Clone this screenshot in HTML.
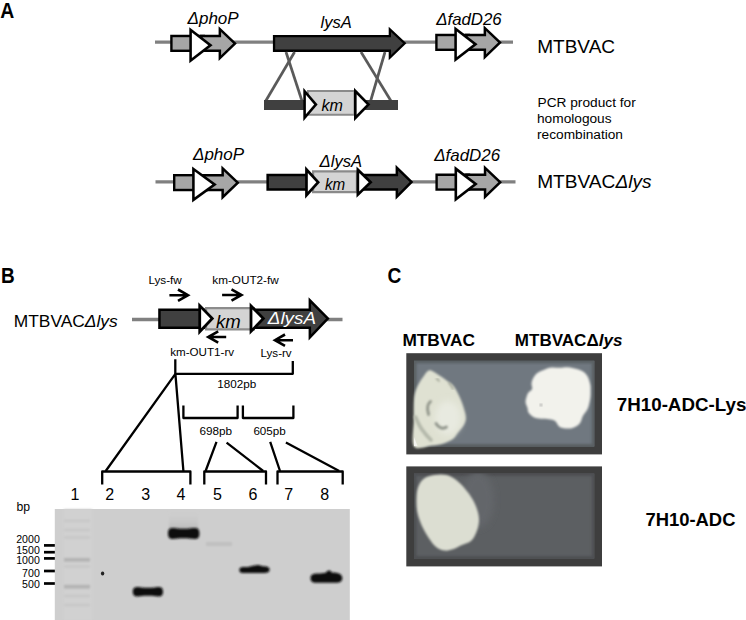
<!DOCTYPE html>
<html><head><meta charset="utf-8">
<style>
html,body{margin:0;padding:0;background:#fff;}
body{width:746px;height:620px;overflow:hidden;position:relative;}
svg{position:absolute;left:0;top:0;display:block;}
text{font-family:"Liberation Sans",sans-serif;}
.i{font-style:italic;}
.b{font-weight:bold;}
</style></head>
<body>
<svg width="746" height="620" viewBox="0 0 746 620">
<defs>
  <filter id="blur1" x="-20%" y="-100%" width="140%" height="300%"><feGaussianBlur stdDeviation="1.2"/></filter>
  <filter id="blur2" x="-50%" y="-50%" width="200%" height="200%"><feGaussianBlur stdDeviation="3"/></filter>
  <filter id="blurc" x="-10%" y="-10%" width="120%" height="120%"><feGaussianBlur stdDeviation="0.8"/></filter>
  <filter id="blur06" x="-20%" y="-50%" width="140%" height="200%"><feGaussianBlur stdDeviation="0.7"/></filter>
  <filter id="blurb" x="-20%" y="-80%" width="140%" height="260%"><feGaussianBlur stdDeviation="0.95"/></filter>
</defs>
<text id="t0" x="0.30" y="17.80" font-size="21.20" class="b" textLength="14.01" lengthAdjust="spacingAndGlyphs">A</text>
<line x1="155" y1="42.1" x2="513" y2="42.1" stroke="#808080" stroke-width="3.3"/>
<polygon points="170.20,34.80 205.00,34.80 205.00,52.00 170.20,52.00" fill="#000"/>
<polygon points="172.60,37.20 202.60,37.20 202.60,49.60 172.60,49.60" fill="#a6a6a6"/>
<polygon points="200.00,34.80 218.60,34.80 218.60,26.20 236.80,43.50 218.60,61.00 218.60,52.00 200.00,52.00" fill="#000"/>
<polygon points="202.50,37.30 221.10,37.30 221.10,32.03 233.18,43.51 221.10,55.13 221.10,49.50 202.50,49.50" fill="#a6a6a6"/>
<polygon points="189.30,27.30 212.60,45.30 189.30,63.20" fill="#000"/>
<polygon points="191.90,32.59 208.34,45.29 191.90,57.92" fill="#fff"/>
<polygon points="435.20,33.80 470.00,33.80 470.00,51.00 435.20,51.00" fill="#000"/>
<polygon points="437.60,36.20 467.60,36.20 467.60,48.60 437.60,48.60" fill="#a6a6a6"/>
<polygon points="465.00,33.80 483.60,33.80 483.60,25.20 501.80,42.50 483.60,60.00 483.60,51.00 465.00,51.00" fill="#000"/>
<polygon points="467.50,36.30 486.10,36.30 486.10,31.03 498.18,42.51 486.10,54.13 486.10,48.50 467.50,48.50" fill="#a6a6a6"/>
<polygon points="454.30,26.30 477.60,44.30 454.30,62.20" fill="#000"/>
<polygon points="456.90,31.59 473.34,44.29 456.90,56.92" fill="#fff"/>
<polygon points="272.90,35.00 388.70,35.00 388.70,26.70 406.40,43.30 388.70,60.30 388.70,51.90 272.90,51.90" fill="#000"/>
<polygon points="275.20,37.30 391.00,37.30 391.00,32.01 403.06,43.32 391.00,54.90 391.00,49.60 275.20,49.60" fill="#404040"/>
<text id="t1" x="320.50" y="28.30" font-size="17.00" class="i" textLength="31.32" lengthAdjust="spacingAndGlyphs">lysA</text>
<text id="t2" x="187.50" y="23.50" font-size="17.00" class="i" textLength="51.21" lengthAdjust="spacingAndGlyphs">ΔphoP</text>
<text id="t3" x="436.20" y="25.30" font-size="17.00" class="i" textLength="65.53" lengthAdjust="spacingAndGlyphs">ΔfadD26</text>
<text id="t4" x="537.20" y="52.60" font-size="18.60" textLength="77.91" lengthAdjust="spacingAndGlyphs">MTBVAC</text>
<g stroke="#5a5a5a" stroke-width="2.7">
<line x1="286" y1="52" x2="302" y2="101"/>
<line x1="294.6" y1="52" x2="265.7" y2="101"/>
<line x1="361" y1="52" x2="391" y2="101"/>
<line x1="385" y1="52" x2="370.6" y2="101"/>
</g>
<rect x="264" y="100" width="134" height="10" fill="#404040"/>
<polygon points="307.00,90.00 355.50,90.00 355.50,115.80 307.00,115.80" fill="#8a8a8a"/>
<polygon points="309.00,92.00 353.50,92.00 353.50,113.80 309.00,113.80" fill="#d4d4d4"/>
<polygon points="303.30,87.80 317.60,104.50 303.30,121.20" fill="#000"/>
<polygon points="305.90,94.83 314.18,104.50 305.90,114.17" fill="#fff"/>
<polygon points="354.00,87.80 370.30,104.50 354.00,121.20" fill="#000"/>
<polygon points="356.60,94.19 366.67,104.50 356.60,114.81" fill="#fff"/>
<text id="t5" x="321.40" y="111.20" font-size="16.00" class="i" textLength="21.43" lengthAdjust="spacingAndGlyphs">km</text>
<text id="t6" x="537.50" y="106.70" font-size="13.70" textLength="98.24" lengthAdjust="spacingAndGlyphs">PCR product for</text>
<text id="t7" x="537.00" y="122.90" font-size="13.70">homologous</text>
<text id="t8" x="537.00" y="138.90" font-size="13.70">recombination</text>
<line x1="155.5" y1="181.9" x2="515.5" y2="181.9" stroke="#808080" stroke-width="3.3"/>
<polygon points="173.00,174.00 207.80,174.00 207.80,191.20 173.00,191.20" fill="#000"/>
<polygon points="175.40,176.40 205.40,176.40 205.40,188.80 175.40,188.80" fill="#a6a6a6"/>
<polygon points="202.80,174.00 221.40,174.00 221.40,165.40 239.60,182.70 221.40,200.20 221.40,191.20 202.80,191.20" fill="#000"/>
<polygon points="205.30,176.50 223.90,176.50 223.90,171.23 235.98,182.71 223.90,194.33 223.90,188.70 205.30,188.70" fill="#a6a6a6"/>
<polygon points="192.10,166.50 216.80,184.50 192.10,202.40" fill="#000"/>
<polygon points="194.70,171.61 212.38,184.49 194.70,197.30" fill="#fff"/>
<polygon points="435.40,173.60 470.20,173.60 470.20,190.80 435.40,190.80" fill="#000"/>
<polygon points="437.80,176.00 467.80,176.00 467.80,188.40 437.80,188.40" fill="#a6a6a6"/>
<polygon points="465.20,173.60 483.80,173.60 483.80,165.00 502.00,182.30 483.80,199.80 483.80,190.80 465.20,190.80" fill="#000"/>
<polygon points="467.70,176.10 486.30,176.10 486.30,170.83 498.38,182.31 486.30,193.93 486.30,188.30 467.70,188.30" fill="#a6a6a6"/>
<polygon points="454.50,166.10 477.80,184.10 454.50,202.00" fill="#000"/>
<polygon points="457.10,171.39 473.54,184.09 457.10,196.72" fill="#fff"/>
<polygon points="266.40,173.80 395.60,173.80 395.60,164.80 413.30,182.00 395.60,199.80 395.60,190.80 266.40,190.80" fill="#000"/>
<polygon points="268.90,176.30 398.10,176.30 398.10,170.72 409.74,182.03 398.10,193.74 398.10,188.30 268.90,188.30" fill="#404040"/>
<polygon points="312.00,170.30 358.00,170.30 358.00,193.30 312.00,193.30" fill="#8a8a8a"/>
<polygon points="314.20,172.50 355.80,172.50 355.80,191.10 314.20,191.10" fill="#d4d4d4"/>
<polygon points="305.10,165.90 320.00,182.30 305.10,198.70" fill="#000"/>
<polygon points="307.80,172.89 316.35,182.30 307.80,191.71" fill="#fff"/>
<polygon points="356.50,166.60 372.60,182.20 356.50,197.80" fill="#000"/>
<polygon points="359.20,172.98 368.72,182.20 359.20,191.42" fill="#fff"/>
<text id="t9" x="319.60" y="166.70" font-size="16.50" class="i" textLength="42.55" lengthAdjust="spacingAndGlyphs">ΔlysA</text>
<text id="t10" x="324.90" y="190.10" font-size="16.00" class="i" textLength="20.23" lengthAdjust="spacingAndGlyphs">km</text>
<text id="t11" x="193.00" y="160.20" font-size="17.00" class="i" textLength="51.11" lengthAdjust="spacingAndGlyphs">ΔphoP</text>
<text id="t12" x="434.20" y="161.00" font-size="17.00" class="i" textLength="65.93" lengthAdjust="spacingAndGlyphs">ΔfadD26</text>
<text id="t13" x="537.20" y="187.50" font-size="18.60" textLength="114.41" lengthAdjust="spacingAndGlyphs">MTBVAC<tspan class="i">Δlys</tspan></text>
<text id="t14" x="1.10" y="282.90" font-size="21.20" class="b" textLength="13.71" lengthAdjust="spacingAndGlyphs">B</text>
<text id="t15" x="13.70" y="327.00" font-size="17.00" textLength="104.07" lengthAdjust="spacingAndGlyphs">MTBVAC<tspan class="i">Δlys</tspan></text>
<line x1="132" y1="319.5" x2="342.5" y2="319.5" stroke="#808080" stroke-width="3.3"/>
<polygon points="158.20,308.40 308.60,308.40 308.60,297.30 329.60,318.60 308.60,340.40 308.60,328.90 158.20,328.90" fill="#000"/>
<polygon points="160.70,310.90 311.10,310.90 311.10,303.40 326.11,318.62 311.10,334.20 311.10,326.40 160.70,326.40" fill="#404040"/>
<polygon points="205.00,307.10 255.00,307.10 255.00,330.40 205.00,330.40" fill="#8c8c8c"/>
<polygon points="207.20,309.30 252.80,309.30 252.80,328.20 207.20,328.20" fill="#d4d4d4"/>
<polygon points="198.30,302.20 214.20,318.60 198.30,335.20" fill="#000"/>
<polygon points="201.10,309.11 210.31,318.61 201.10,328.23" fill="#fff"/>
<polygon points="249.60,302.60 265.30,318.60 249.60,334.80" fill="#000"/>
<polygon points="252.40,309.45 261.39,318.61 252.40,327.89" fill="#fff"/>
<text id="t16" x="216.00" y="328.20" font-size="18.50" class="i" textLength="24.77" lengthAdjust="spacingAndGlyphs">km</text>
<text id="t17" x="267.80" y="324.40" font-size="16.50" class="i" textLength="48.15" lengthAdjust="spacingAndGlyphs" fill="#fff">ΔlysA</text>
<text id="t18" x="148.40" y="284.00" font-size="11.80" textLength="33.46" lengthAdjust="spacingAndGlyphs">Lys-fw</text>
<text id="t19" x="212.30" y="284.00" font-size="11.80" textLength="66.44" lengthAdjust="spacingAndGlyphs">km-OUT2-fw</text>
<text id="t20" x="170.20" y="355.70" font-size="11.80" textLength="63.88" lengthAdjust="spacingAndGlyphs">km-OUT1-rv</text>
<text id="t21" x="260.50" y="356.70" font-size="11.80" textLength="31.19" lengthAdjust="spacingAndGlyphs">Lys-rv</text>
<g stroke="#000" stroke-width="2.6" fill="none" stroke-linecap="butt">
<path d="M169.4,295.2 H188.5 M178.0,289.5 L188.0,295.2 L178.0,300.9"/>
<path d="M222.1,295.0 H242.0 M231.5,289.3 L241.5,295.0 L231.5,300.7"/>
<path d="M207.7,337.0 H226.2 M218.2,331.3 L208.2,337.0 L218.2,342.7"/>
<path d="M274.5,340.2 H293.0 M285.0,334.5 L275.0,340.2 L285.0,345.9"/>
</g>
<g stroke="#000" stroke-width="2.3" fill="none" stroke-linejoin="round">
<path d="M175.3,359.3 V373.8 H292.8 V361"/>
<path d="M183.4,405.6 V418.0 H237.6 V405.6"/>
<path d="M242.9,405.6 V418.0 H293.4 V405.6"/>
<path d="M175.4,373.9 L105.7,471 M175.4,373.9 L183.4,471"/>
<path d="M216.5,441.9 L205.6,471 M226.6,442.6 L263.2,471"/>
<path d="M270.2,441.9 L280,471 M285.9,442.6 L339.2,471"/>
<path d="M102.2,484.6 V471.5 H190.4 V484.6"/>
<path d="M204.3,484.6 V471.5 H266 V484.6"/>
<path d="M277.5,484.6 V471.5 H342.7 V484.6"/>
</g>
<text id="t22" x="217.20" y="388.30" font-size="11.40" textLength="39.02" lengthAdjust="spacingAndGlyphs">1802pb</text>
<text id="t23" x="199.40" y="435.00" font-size="11.60" textLength="32.65" lengthAdjust="spacingAndGlyphs">698pb</text>
<text id="t24" x="253.40" y="435.00" font-size="11.60" textLength="32.35" lengthAdjust="spacingAndGlyphs">605pb</text>
<text x="74.9" y="500.3" font-size="16" text-anchor="middle">1</text>
<text x="109.7" y="500.3" font-size="16" text-anchor="middle">2</text>
<text x="145.8" y="500.3" font-size="16" text-anchor="middle">3</text>
<text x="181.0" y="500.3" font-size="16" text-anchor="middle">4</text>
<text x="217.4" y="500.3" font-size="16" text-anchor="middle">5</text>
<text x="253.0" y="500.3" font-size="16" text-anchor="middle">6</text>
<text x="288.7" y="500.3" font-size="16" text-anchor="middle">7</text>
<text x="324.8" y="500.3" font-size="16" text-anchor="middle">8</text>
<text id="t25" x="16.50" y="511.00" font-size="12.20">bp</text>
<text x="39.8" y="542.9" font-size="10.6" text-anchor="end">2000</text>
<text x="39.8" y="553.5" font-size="10.6" text-anchor="end">1500</text>
<text x="39.8" y="564.2" font-size="10.6" text-anchor="end">1000</text>
<text x="39.8" y="576.8" font-size="10.6" text-anchor="end">700</text>
<text x="39.8" y="587.8" font-size="10.6" text-anchor="end">500</text>
<g stroke="#000" stroke-width="2.7">
<line x1="44" y1="545.4" x2="55" y2="545.4"/>
<line x1="44" y1="552.2" x2="55" y2="552.2"/>
<line x1="44" y1="558.4" x2="55" y2="558.4"/>
<line x1="44" y1="571.0" x2="55" y2="571.0"/>
<line x1="44" y1="583.5" x2="55" y2="583.5"/>
</g>
<rect x="54.8" y="509" width="295" height="111" fill="#cecece"/><rect x="64" y="509" width="28" height="111" fill="#d1d1d1" filter="url(#blur1)"/>
<g fill="#c6c6c6" filter="url(#blur1)">
<rect x="64" y="519.7" width="26" height="2.2"/>
<rect x="64" y="528.9" width="26" height="2.2"/>
<rect x="64" y="536.4" width="26" height="2.2"/>
<rect x="64" y="565.4" width="26" height="2.2"/>
<rect x="64" y="594.9" width="26" height="2.2"/>
<rect x="64" y="603.9" width="26" height="2.2"/>
</g>
<g fill="#b2b2b2" filter="url(#blur1)">
<rect x="64" y="558.0" width="26" height="3.6"/>
<rect x="64" y="584.9" width="26" height="3.6"/>
</g>
<rect x="206" y="542" width="26" height="4" fill="#c0c0c0" filter="url(#blur1)"/>
<defs><linearGradient id="smear" x1="0" y1="0" x2="0" y2="1"><stop offset="0" stop-color="#cecece" stop-opacity="0"/><stop offset="1" stop-color="#b8b8b8" stop-opacity="1"/></linearGradient></defs>
<rect x="169" y="511" width="29" height="19" fill="url(#smear)" filter="url(#blur1)"/>
<g fill="#101010" filter="url(#blurb)">
<path d="M132.8,591.7 C132.8,587 136,586.8 140,587.2 C145,587.9 151,587.9 156,587.2 C161,586.7 163,587.6 163,591.7 C163,596 161,596.8 156,596.3 C151,595.7 145,595.7 140,596.3 C136,596.8 132.8,596.4 132.8,591.7 Z"/>
<path d="M168,533.5 C168,527.9 171,527.7 176,528.3 C181,529 186,529 191,528.3 C197,527.7 199.4,528.2 199.4,533.5 C199.4,539 197,539.3 191,538.8 C186,538.2 181,538.2 176,538.8 C171,539.3 168,539 168,533.5 Z"/>
<path d="M239.3,569.8 C239.3,566.6 243,566.8 248,567 C252,566 255,565.3 257.5,565 C260,564.8 261,566 263,566.3 C267,566.2 269.6,567 269.6,569.6 C269.6,572.6 267,573.2 262,573 L246,573.1 C241,573.2 239.3,572.6 239.3,569.8 Z"/>
<path d="M310.5,578.2 C310.5,573.8 314,573.6 320,573.6 L326,572.8 C327,569.8 331,569.6 331.5,572.4 C337,572.7 342.3,573 342.3,578 C342.3,582.3 339,582.8 334,582.8 L318,582.8 C313,582.8 310.5,582 310.5,578.2 Z"/>
</g>
<ellipse cx="102.6" cy="573.6" rx="1.7" ry="2" fill="#222" filter="url(#blur06)"/>
<text id="t26" x="387.50" y="283.30" font-size="21.20" class="b" textLength="13.81" lengthAdjust="spacingAndGlyphs">C</text>
<text id="t27" x="402.40" y="346.00" font-size="16.50" class="b" textLength="72.66" lengthAdjust="spacingAndGlyphs">MTBVAC</text>
<text id="t28" x="514.80" y="346.00" font-size="16.30" class="b" textLength="107.58" lengthAdjust="spacingAndGlyphs">MTBVACΔ<tspan font-style="italic">lys</tspan></text>
<text id="t29" x="616.80" y="410.70" font-size="18.60" class="b" textLength="129.57" lengthAdjust="spacingAndGlyphs">7H10-ADC-Lys</text>
<text id="t30" x="645.40" y="525.80" font-size="18.50" class="b" textLength="90.07" lengthAdjust="spacingAndGlyphs">7H10-ADC</text>
<rect x="406.3" y="353.2" width="195.7" height="101.2" fill="#3e3e3e"/>
<rect x="414" y="360.8" width="180.3" height="85.7" fill="#707880"/>
<clipPath id="p1clip"><rect x="414" y="360.8" width="180.3" height="85.7"/></clipPath>
<g clip-path="url(#p1clip)"><rect x="414" y="360.8" width="180.3" height="85.7" fill="none" stroke="#5a6064" stroke-width="5" filter="url(#blur1)"/></g>
<g filter="url(#blurc)">
<path d="M430.30,370.20 C431.93,370.53 434.13,372.12 436.80,373.80 C439.47,375.48 443.52,378.25 446.30,380.30 C449.08,382.35 451.33,383.43 453.50,386.10 C455.67,388.77 457.60,392.67 459.30,396.30 C461.00,399.93 462.60,404.28 463.70,407.90 C464.80,411.52 465.90,415.10 465.90,418.00 C465.90,420.90 465.03,422.88 463.70,425.30 C462.37,427.72 459.60,430.32 457.90,432.50 C456.20,434.68 455.92,436.58 453.50,438.40 C451.08,440.22 447.02,442.20 443.40,443.40 C439.78,444.60 436.70,445.08 431.80,445.60 C426.90,446.12 417.00,450.77 414.00,446.50 C411.00,442.23 413.80,427.75 413.80,420.00 C413.80,412.25 413.63,405.00 414.00,400.00 C414.37,395.00 415.08,392.92 416.00,390.00 C416.92,387.08 418.20,384.83 419.50,382.50 C420.80,380.17 422.55,377.78 423.80,376.00 C425.05,374.22 425.92,372.77 427.00,371.80 C428.08,370.83 428.67,369.87 430.30,370.20 Z" fill="#dfe1d2"/>
<path d="M544.20,369.70 C546.62,368.73 548.87,367.82 551.50,367.50 C554.13,367.18 557.18,367.83 560.00,367.80 C562.82,367.77 564.98,366.88 568.40,367.30 C571.82,367.72 577.37,368.90 580.50,370.30 C583.63,371.70 585.58,373.38 587.20,375.70 C588.82,378.02 589.63,381.65 590.20,384.20 C590.77,386.75 590.60,388.58 590.60,391.00 C590.60,393.42 590.67,395.80 590.20,398.70 C589.73,401.60 589.00,405.57 587.80,408.40 C586.60,411.23 584.42,413.08 583.00,415.70 C581.58,418.32 581.33,421.98 579.30,424.10 C577.27,426.22 574.02,427.88 570.80,428.40 C567.58,428.92 562.62,428.42 560.00,427.20 C557.38,425.98 556.93,422.42 555.10,421.10 C553.27,419.78 551.35,419.68 549.00,419.30 C546.65,418.92 543.62,419.20 541.00,418.80 C538.38,418.40 535.38,417.95 533.30,416.90 C531.22,415.85 529.47,413.98 528.50,412.50 C527.53,411.02 527.98,409.68 527.50,408.00 C527.02,406.32 525.77,404.23 525.60,402.40 C525.43,400.57 526.05,398.62 526.50,397.00 C526.95,395.38 527.37,394.03 528.30,392.70 C529.23,391.37 531.57,390.45 532.10,389.00 C532.63,387.55 531.38,385.67 531.50,384.00 C531.62,382.33 531.88,380.78 532.80,379.00 C533.72,377.22 535.10,374.85 537.00,373.30 C538.90,371.75 541.78,370.67 544.20,369.70 Z" fill="#f2f2ec"/>
</g>
<ellipse cx="448" cy="418" rx="13" ry="17" fill="#e8eae0" filter="url(#blur2)"/>
<g stroke="#90948a" stroke-width="2.8" fill="none" stroke-linecap="round" filter="url(#blur1)">
<path d="M430.5,401.5 C427.5,404 426.8,409 428.6,414.5"/>
<path d="M436,423.5 C438.5,428 443,429.5 446.5,427"/>
</g>
<g stroke="#b4b8aa" stroke-width="3.6" fill="none" stroke-linecap="round" filter="url(#blur1)">
<path d="M415.5,417 C418,423 421,429 424,432 C426,435 428,437 431,440"/>
</g>
<g stroke="#9a9e90" stroke-width="1.6" fill="none" stroke-linecap="round" filter="url(#blurc)">
<path d="M436.5,379 C437.5,379 438.5,380 439,381"/>
<path d="M449,383 C451,385 452,387 453,389"/>
</g>
<path d="M414,437 L417.5,446 L414,446 Z" fill="#f4f4f0" filter="url(#blur06)"/>
<circle cx="541" cy="405" r="1.2" fill="#999" filter="url(#blurc)"/>
<rect x="406.3" y="466.4" width="195.7" height="100" fill="#3e3e3e"/>
<rect x="414" y="473.6" width="180.3" height="85" fill="#5c5f62"/>
<clipPath id="p2clip"><rect x="414" y="473.6" width="180.3" height="85"/></clipPath><g clip-path="url(#p2clip)"><rect x="414" y="473.6" width="180.3" height="85" fill="none" stroke="#4e5052" stroke-width="5" filter="url(#blur1)"/><ellipse cx="478" cy="500" rx="16" ry="28" fill="#63666a" filter="url(#blur2)"/></g>
<path d="M423.80,478.70 C426.58,476.65 430.95,475.70 434.70,475.10 C438.45,474.50 442.67,474.25 446.30,475.10 C449.93,475.95 453.35,477.90 456.50,480.20 C459.65,482.50 462.55,485.77 465.20,488.90 C467.85,492.03 470.35,495.37 472.40,499.00 C474.45,502.63 476.40,507.07 477.50,510.70 C478.60,514.33 479.12,517.42 479.00,520.80 C478.88,524.18 478.13,527.62 476.80,531.00 C475.47,534.38 473.67,538.68 471.00,541.10 C468.33,543.52 463.70,544.17 460.80,545.50 C457.90,546.83 456.27,548.25 453.60,549.10 C450.93,549.95 447.72,550.95 444.80,550.60 C441.88,550.25 438.75,549.07 436.10,547.00 C433.45,544.93 431.32,541.83 428.90,538.20 C426.48,534.57 423.53,529.55 421.60,525.20 C419.67,520.85 418.15,516.47 417.30,512.10 C416.45,507.73 416.38,503.12 416.50,499.00 C416.62,494.88 416.78,490.78 418.00,487.40 C419.22,484.02 421.02,480.75 423.80,478.70 Z" fill="#dcded2" filter="url(#blurc)"/>
</svg>
</body></html>
